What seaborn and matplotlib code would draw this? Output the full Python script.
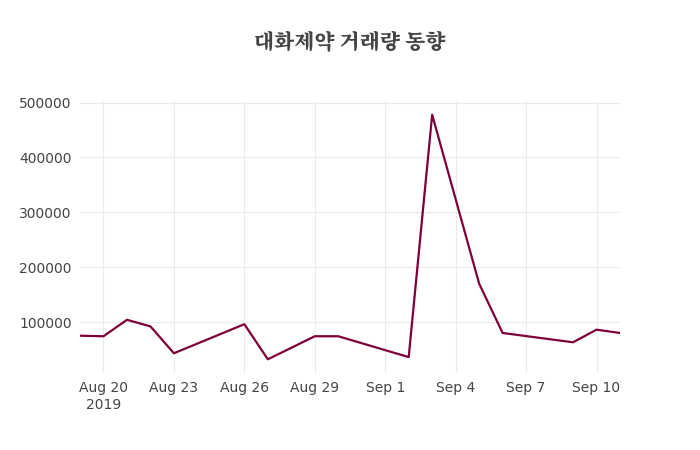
import pandas as pd
import matplotlib
matplotlib.use("Agg")
import matplotlib.pyplot as plt
from matplotlib import font_manager
import seaborn as sns

dates = ["2019-08-19", "2019-08-20", "2019-08-21", "2019-08-22", "2019-08-23",
         "2019-08-26", "2019-08-27", "2019-08-29", "2019-08-30", "2019-09-02",
         "2019-09-03", "2019-09-05", "2019-09-06", "2019-09-09", "2019-09-10",
         "2019-09-11"]
volume = [75000, 74000, 104000, 92000, 43000,
          96000, 32000, 74000, 74000, 36000,
          478000, 170000, 80000, 63000, 86000,
          80000]

df = pd.DataFrame({"date": pd.to_datetime(dates), "volume": volume})

# find a CJK font file that can draw Hangul
cjk_font = None
for f in font_manager.findSystemFonts():
    if "CJK" in f and ("KR" in f or "Regular" in f or f.endswith(".ttc")):
        cjk_font = f
        break
for f in font_manager.findSystemFonts():
    if "NotoSansCJKkr" in f.replace("-", "") or "CJK-KR" in f or "CJKkr" in f:
        cjk_font = f
        break
if cjk_font:
    font_manager.fontManager.addfont(cjk_font)
    title_prop = font_manager.FontProperties(fname=cjk_font, size=15)
else:
    title_prop = font_manager.FontProperties(family="Noto Sans CJK KR", size=15)

fig = plt.figure(figsize=(7, 4.5), dpi=100)
ax = fig.add_axes([80 / 700, 1 - 373 / 450, 540 / 700, 272 / 450])

sns.lineplot(data=df, x="date", y="volume", color="#7f0038", linewidth=1.6, ax=ax)

ax.set_xlim(df["date"].min(), df["date"].max())
ax.set_ylim(7000, 503000)
ax.set_yticks([100000, 200000, 300000, 400000, 500000])
ax.set_yticklabels(["100000", "200000", "300000", "400000", "500000"])
ticks = pd.to_datetime(["2019-08-20", "2019-08-23", "2019-08-26", "2019-08-29",
                        "2019-09-01", "2019-09-04", "2019-09-07", "2019-09-10"])
ax.set_xticks(ticks)
labels = [t.strftime("%b ") + str(t.day) for t in ticks]
labels[0] = labels[0] + "\n2019"
ax.set_xticklabels(labels)
ax.set_xlabel("")
ax.set_ylabel("")
ax.grid(True, color="#ebebeb", linewidth=0.8)
for s in ax.spines.values():
    s.set_visible(False)
ax.tick_params(length=0, labelsize=10, colors="#444444", pad=6)
ax.set_axisbelow(True)

fig.text(0.5, 1 - 42 / 450, "대화제약 거래량 동향", ha="center", va="center",
         fontproperties=title_prop, color="#444444")

fig.savefig("out.png", dpi=100)
